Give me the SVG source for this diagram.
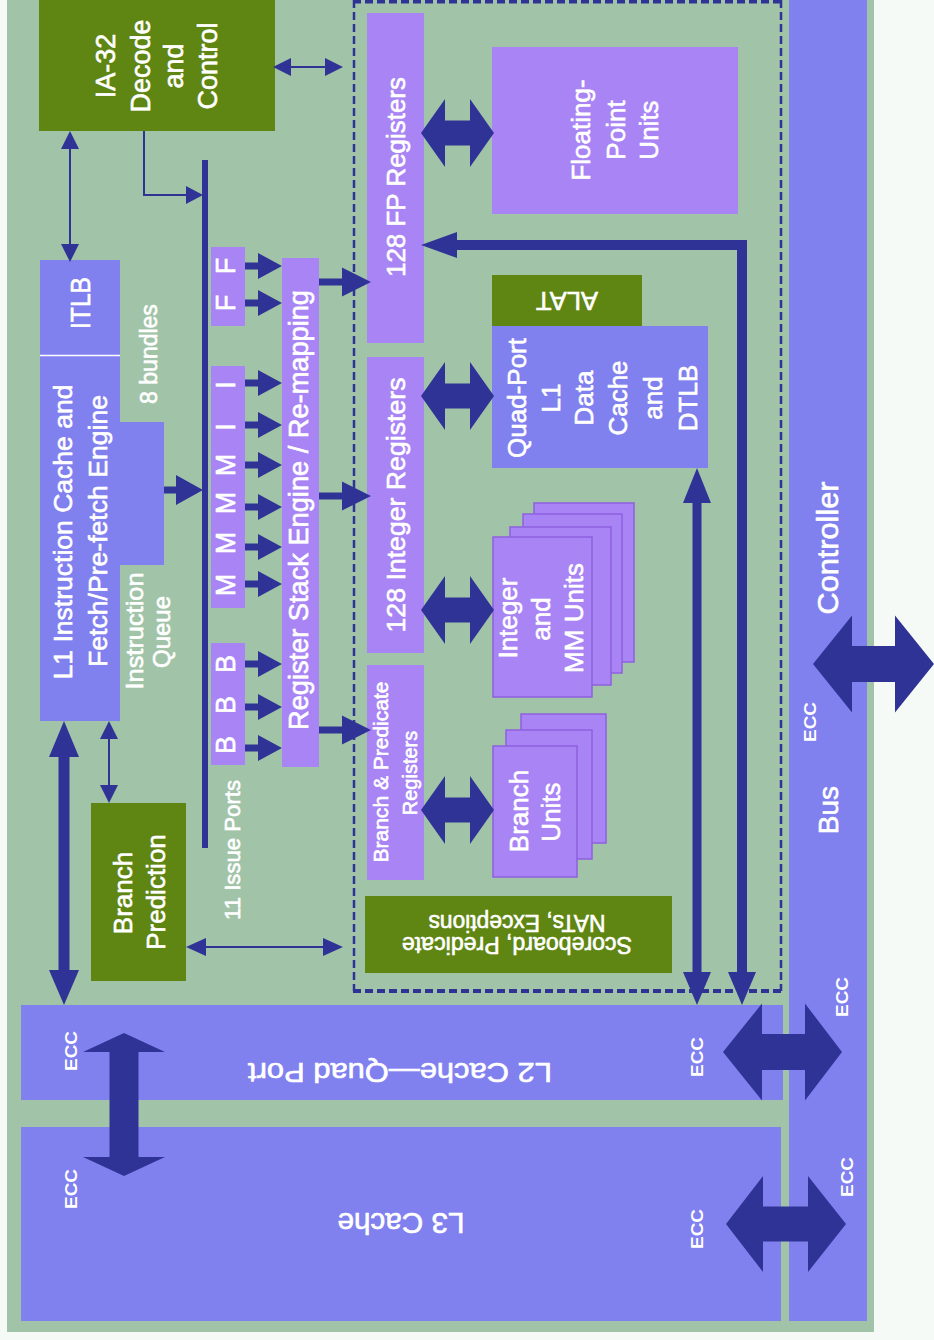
<svg xmlns="http://www.w3.org/2000/svg" width="934" height="1340" viewBox="0 0 934 1340">
<style>
.t{font-family:"Liberation Sans",Arial,sans-serif;fill:#ffffff;stroke:#ffffff;stroke-width:0.6;text-anchor:middle}
.s27{font-size:27px}.s26{font-size:26px}.s24{font-size:24px}.s23{font-size:23px}.s22{font-size:22px}.s20{font-size:20px}
.ecc{font-size:17px;font-weight:bold;stroke-width:0}
.blue{fill:#8080ee}.purp{fill:#a884f4}.olive{fill:#5f8512}
.unit{fill:#a884f4;stroke:#8f5fe0;stroke-width:1.5}
.nv{fill:#303396}
.thin{stroke:#303396;stroke-width:2;fill:none}
.thick{stroke:#303396;fill:none}
.dash{stroke:#303396;fill:none;stroke-dasharray:8 4}
</style>
<defs>
<path id="sa" d="M0,-3.5 H13 V-13 L37,0 L13,13 V3.5 H0 Z"/>
<path id="ra" d="M0,-3.5 H23 V-14.5 L52,0 L23,14.5 V3.5 H0 Z"/>
<path id="bd" d="M0,0 L24,-34 V-12.5 H49 V-34 L73,0 L49,34 V12.5 H24 V34 Z"/>
</defs>
<rect x="0" y="0" width="934" height="1340" fill="#f6faf6"/>
<rect x="7" y="0" width="867" height="1332" fill="#a1c4a9"/>

<g id="bus-controller">
<rect class="blue" x="789" y="0" width="78" height="1321"/>
<text class="t" style="font-size:29px" textLength="133" lengthAdjust="spacingAndGlyphs" transform="translate(838,548) rotate(-90)">Controller</text>
<text class="t" style="font-size:28px" transform="translate(838,810) rotate(-90)">Bus</text>
<text class="t ecc" textLength="40" lengthAdjust="spacingAndGlyphs" transform="translate(816,722) rotate(-90)">ECC</text>
<text class="t ecc" textLength="40" lengthAdjust="spacingAndGlyphs" transform="translate(848,997) rotate(-90)">ECC</text>
<text class="t ecc" textLength="40" lengthAdjust="spacingAndGlyphs" transform="translate(853,1177) rotate(-90)">ECC</text>
</g>

<g id="l2-cache">
<rect class="blue" x="21" y="1005" width="762" height="95"/>
<text class="t" style="font-size:28px" textLength="304" lengthAdjust="spacingAndGlyphs" transform="translate(400,1063) rotate(180)">L2 Cache—Quad Port</text>
<text class="t ecc" textLength="40" lengthAdjust="spacingAndGlyphs" transform="translate(77,1051) rotate(-90)">ECC</text>
<text class="t ecc" textLength="40" lengthAdjust="spacingAndGlyphs" transform="translate(703,1057) rotate(-90)">ECC</text>
</g>

<g id="l3-cache">
<rect class="blue" x="21" y="1127" width="760" height="194"/>
<text class="t" style="font-size:29px" textLength="127" lengthAdjust="spacingAndGlyphs" transform="translate(401,1213) rotate(180)">L3 Cache</text>
<text class="t ecc" textLength="40" lengthAdjust="spacingAndGlyphs" transform="translate(77,1189) rotate(-90)">ECC</text>
<text class="t ecc" textLength="40" lengthAdjust="spacingAndGlyphs" transform="translate(703,1229) rotate(-90)">ECC</text>
</g>

<g id="execution-core-boundary">
<line class="dash" x1="353" y1="1.5" x2="781" y2="1.5" stroke-width="4"/>
<line class="dash" x1="353" y1="991" x2="781" y2="991" stroke-width="4"/>
<line class="dash" x1="354" y1="0" x2="354" y2="991" stroke-width="2.5"/>
<line class="dash" x1="781" y1="0" x2="781" y2="991" stroke-width="2.5"/>
</g>

<g id="ia32-decode">
<rect class="olive" x="39" y="0" width="236" height="131"/>
<text class="t s27" transform="translate(115,66) rotate(-90)">IA-32</text>
<text class="t s27" transform="translate(150,66) rotate(-90)">Decode</text>
<text class="t s27" transform="translate(183,66) rotate(-90)">and</text>
<text class="t s27" transform="translate(217,66) rotate(-90)">Control</text>
</g>

<g id="itlb">
<rect class="blue" x="40" y="260" width="80" height="95"/>
<text class="t s27" textLength="52" lengthAdjust="spacingAndGlyphs" transform="translate(90,303) rotate(-90)">ITLB</text>
</g>

<g id="l1-icache">
<path class="blue" d="M40,355 H120 V422 H164 V565 H120 V721 H40 Z"/>
<line x1="40" y1="355.5" x2="120" y2="355.5" stroke="#ffffff" stroke-width="1.5"/>
<text class="t s26" textLength="295" lengthAdjust="spacingAndGlyphs" transform="translate(72,532) rotate(-90)">L1 Instruction Cache and</text>
<text class="t s26" textLength="272" lengthAdjust="spacingAndGlyphs" transform="translate(107,531) rotate(-90)">Fetch/Pre-fetch Engine</text>
</g>

<g id="labels">
<text class="t s23" transform="translate(157,354) rotate(-90)">8 bundles</text>
<text class="t s24" textLength="117" lengthAdjust="spacingAndGlyphs" transform="translate(143,631) rotate(-90)">Instruction</text>
<text class="t s24" transform="translate(170,632) rotate(-90)">Queue</text>
<text class="t s22" textLength="140" lengthAdjust="spacingAndGlyphs" transform="translate(240,850) rotate(-90)">11 Issue Ports</text>
</g>

<g id="branch-prediction">
<rect class="olive" x="91" y="803" width="95" height="178"/>
<text class="t s26" transform="translate(132,893) rotate(-90)">Branch</text>
<text class="t s26" transform="translate(165,892) rotate(-90)">Prediction</text>
</g>

<g id="issue-ports">
<rect class="nv" x="202" y="160" width="6" height="688"/>
<rect class="purp" x="211" y="247" width="34" height="79"/>
<rect class="purp" x="211" y="366" width="34" height="242"/>
<rect class="purp" x="211" y="643" width="34" height="122"/>
<text class="t s27" transform="translate(235,266) rotate(-90)">F</text>
<text class="t s27" transform="translate(235,303) rotate(-90)">F</text>
<text class="t s27" transform="translate(235,385) rotate(-90)">I</text>
<text class="t s27" transform="translate(235,427) rotate(-90)">I</text>
<text class="t s27" transform="translate(235,465) rotate(-90)">M</text>
<text class="t s27" transform="translate(235,503) rotate(-90)">M</text>
<text class="t s27" transform="translate(235,543) rotate(-90)">M</text>
<text class="t s27" transform="translate(235,585) rotate(-90)">M</text>
<text class="t s27" transform="translate(235,664) rotate(-90)">B</text>
<text class="t s27" transform="translate(235,705) rotate(-90)">B</text>
<text class="t s27" transform="translate(235,745) rotate(-90)">B</text>
</g>

<g id="register-stack-engine">
<rect class="purp" x="282" y="258" width="37" height="509"/>
<text class="t s27" textLength="440" lengthAdjust="spacingAndGlyphs" transform="translate(308,510) rotate(-90)">Register Stack Engine / Re-mapping</text>
</g>

<g id="fp-registers">
<rect class="purp" x="367" y="13" width="57" height="330"/>
<text class="t s26" textLength="200" lengthAdjust="spacingAndGlyphs" transform="translate(405,177) rotate(-90)">128 FP Registers</text>
</g>

<g id="integer-registers">
<rect class="purp" x="367" y="357" width="57" height="296"/>
<text class="t s26" textLength="255" lengthAdjust="spacingAndGlyphs" transform="translate(405,505) rotate(-90)">128 Integer Registers</text>
</g>

<g id="branch-predicate-registers">
<rect class="purp" x="367" y="665" width="57" height="215"/>
<text class="t s20" textLength="181" lengthAdjust="spacingAndGlyphs" transform="translate(388,772) rotate(-90)">Branch &amp; Predicate</text>
<text class="t s20" transform="translate(417,773) rotate(-90)">Registers</text>
</g>

<g id="fp-units">
<rect class="purp" x="492" y="47" width="246" height="167"/>
<text class="t s26" transform="translate(590,130) rotate(-90)">Floating-</text>
<text class="t s26" transform="translate(625,130) rotate(-90)">Point</text>
<text class="t s26" transform="translate(658,130) rotate(-90)">Units</text>
</g>

<g id="alat">
<rect class="olive" x="492" y="275" width="150" height="51"/>
<text class="t s26" textLength="62" lengthAdjust="spacingAndGlyphs" transform="translate(567,292) rotate(180)">ALAT</text>
</g>

<g id="l1-dcache">
<rect class="blue" x="492" y="326" width="216" height="142"/>
<text class="t s26" transform="translate(526,398) rotate(-90)">Quad-Port</text>
<text class="t s26" transform="translate(560,398) rotate(-90)">L1</text>
<text class="t s26" transform="translate(593,398) rotate(-90)">Data</text>
<text class="t s26" transform="translate(627,398) rotate(-90)">Cache</text>
<text class="t s26" transform="translate(662,398) rotate(-90)">and</text>
<text class="t s26" transform="translate(697,398) rotate(-90)">DTLB</text>
</g>

<g id="integer-mm-units">
<rect class="unit" x="534" y="503" width="100" height="159"/>
<rect class="unit" x="523" y="514" width="99" height="159"/>
<rect class="unit" x="510" y="527" width="101" height="158"/>
<rect class="unit" x="493" y="537" width="99" height="160"/>
<text class="t s26" transform="translate(517,618) rotate(-90)">Integer</text>
<text class="t s26" transform="translate(550,619) rotate(-90)">and</text>
<text class="t s26" transform="translate(583,618) rotate(-90)">MM Units</text>
</g>

<g id="branch-units">
<rect class="unit" x="521" y="714" width="85" height="129"/>
<rect class="unit" x="506" y="730" width="86" height="129"/>
<rect class="unit" x="493" y="746" width="84" height="131"/>
<text class="t s26" transform="translate(528,811) rotate(-90)">Branch</text>
<text class="t s26" transform="translate(560,812) rotate(-90)">Units</text>
</g>

<g id="scoreboard">
<rect class="olive" x="365" y="896" width="307" height="77"/>
<text class="t s23" textLength="230" lengthAdjust="spacingAndGlyphs" transform="translate(517,937) rotate(180)">Scoreboard, Predicate</text>
<text class="t s23" textLength="177" lengthAdjust="spacingAndGlyphs" transform="translate(517,915) rotate(180)">NATs, Exceptions</text>
</g>

<g id="connectors">
<line class="thin" x1="290" y1="67" x2="326" y2="67"/>
<polygon class="nv" points="273,67 291,58 291,76"/>
<polygon class="nv" points="343,67 325,58 325,76"/>
<line class="thin" x1="70" y1="148" x2="70" y2="245"/>
<polygon class="nv" points="70,131 61,149 79,149"/>
<polygon class="nv" points="70,262 61,244 79,244"/>
<line class="thin" x1="109" y1="738" x2="109" y2="786"/>
<polygon class="nv" points="109,721 100,739 118,739"/>
<polygon class="nv" points="109,803 100,785 118,785"/>
<line class="thin" x1="205" y1="947" x2="325" y2="947"/>
<polygon class="nv" points="186,947 206,938 206,956"/>
<polygon class="nv" points="343,947 323,938 323,956"/>
<polyline class="thin" points="144,131 144,195 188,195"/>
<polygon class="nv" points="203,195 186,186 186,204"/>
<path class="nv" d="M164,486.5 H176 V475 L203,490 L176,505 V493.5 H164 Z"/>
<use href="#sa" class="nv" transform="translate(245,266)"/>
<use href="#sa" class="nv" transform="translate(245,303)"/>
<use href="#sa" class="nv" transform="translate(245,383)"/>
<use href="#sa" class="nv" transform="translate(245,425)"/>
<use href="#sa" class="nv" transform="translate(245,465)"/>
<use href="#sa" class="nv" transform="translate(245,507)"/>
<use href="#sa" class="nv" transform="translate(245,547)"/>
<use href="#sa" class="nv" transform="translate(245,584)"/>
<use href="#sa" class="nv" transform="translate(245,664)"/>
<use href="#sa" class="nv" transform="translate(245,707)"/>
<use href="#sa" class="nv" transform="translate(245,748)"/>
<use href="#ra" class="nv" transform="translate(319,282)"/>
<use href="#ra" class="nv" transform="translate(319,496)"/>
<use href="#ra" class="nv" transform="translate(319,730)"/>
<use href="#bd" class="nv" transform="translate(421,133)"/>
<use href="#bd" class="nv" transform="translate(421,396)"/>
<use href="#bd" class="nv" transform="translate(421,610)"/>
<use href="#bd" class="nv" transform="translate(421,810)"/>
<polyline class="thick" stroke-width="10" points="455,245 742,245 742,974"/>
<polygon class="nv" points="421,245 457,232 457,258"/>
<polygon class="nv" points="742,1005 728,972 756,972"/>
<line class="thick" stroke-width="9" x1="697" y1="500" x2="697" y2="975"/>
<polygon class="nv" points="697,468 683,503 711,503"/>
<polygon class="nv" points="697,1005 683,972 711,972"/>
<line class="thick" stroke-width="11" x1="64" y1="755" x2="64" y2="972"/>
<polygon class="nv" points="64,721 49,757 79,757"/>
<polygon class="nv" points="64,1005 49,970 79,970"/>
<path class="nv" d="M124,1033 L165,1052 H138.5 V1157 H165 L124,1176 L83,1157 H109.5 V1052 H83 Z"/>
<path class="nv" d="M723,1052 L762,1003.5 V1034 H805 V1003.5 L842,1052 L805,1100.5 V1070 H762 V1100.5 Z"/>
<path class="nv" d="M726,1224 L763,1176 V1206.5 H808 V1176 L846,1224 L808,1272 V1241.5 H763 V1272 Z"/>
<path class="nv" d="M813,664 L852,615.5 V646 H895 V615.5 L934,664 L895,712.5 V682 H852 V712.5 Z"/>
</g>
</svg>
